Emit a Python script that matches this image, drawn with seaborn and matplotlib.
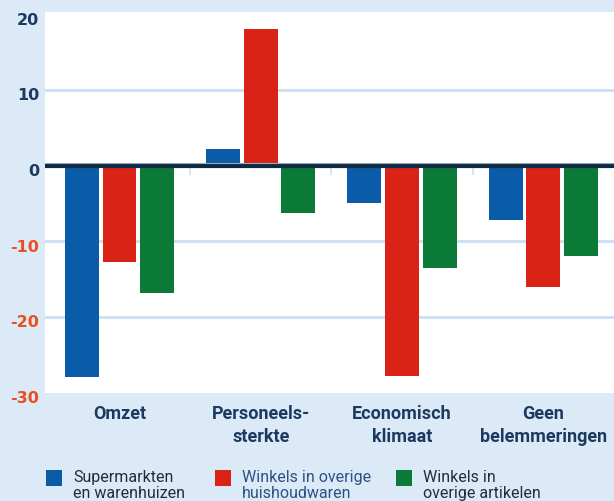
import matplotlib
matplotlib.use("Agg")
import matplotlib.pyplot as plt
import seaborn as sns
import pandas as pd
from matplotlib.patches import Rectangle
from matplotlib.transforms import ScaledTranslation, blended_transform_factory

categories = ["Omzet", "Personeels-\nsterkte", "Economisch\nklimaat", "Geen\nbelemmeringen"]
series = ["Supermarkten\nen warenhuizen", "Winkels in overige\nhuishoudwaren", "Winkels in\noverige artikelen"]
supermarkten = [-28.0, 2.2, -5.0, -7.2]
huishoudwaren = [-12.7, 18.0, -27.8, -16.1]
overige = [-16.9, -6.3, -13.6, -12.0]
colors = ["#0a5ca8", "#d92317", "#0b7a36"]
yticks = [20, 10, 0, -10, -20, -30]

rows = []
for s, vals in zip(series, [supermarkten, huishoudwaren, overige]):
    for c, v in zip(categories, vals):
        rows.append({"cat": c, "series": s, "value": v})
df = pd.DataFrame(rows)

bg = "#dceaf8"
navy = "#1b3a5e"
orange = "#e8501e"

sns.set_theme(style="white")
plt.rcParams["font.family"] = ["Roboto", "DejaVu Sans"]

fig = plt.figure(figsize=(6.14, 5.02), dpi=100, facecolor=bg)
ax = fig.add_axes([45 / 614, 1 - 393.5 / 502, 1 - 45 / 614, (393.5 - 13.3) / 502])
ax.set_facecolor("white")

sns.barplot(data=df, x="cat", y="value", hue="series", order=categories,
            hue_order=series, palette=colors, width=0.8, gap=0.1,
            saturation=1, legend=False, ax=ax, zorder=2,
            edgecolor="none", linewidth=0)

ax.set_xlim(-0.527, 3.5)
ax.set_ylim(-30, 20.25)

for y in [10, -10, -20]:
    ax.axhline(y, color="#cde0f4", lw=2.2, zorder=1)
ax.axhline(0, color="#0d2a45", lw=3, zorder=4)
ax.axhline(0.3, color="#9aa8b5", lw=0.8, zorder=4)
ax.vlines([0.5, 1.5, 2.5], -1.3, 0, color="#d5e5f5", lw=1.5, zorder=1)

for sp in ax.spines.values():
    sp.set_visible(False)

# y tick labels drawn as text, shifted slightly down like the reference
ax.set_yticks(yticks)
ax.set_yticklabels([])
trans = blended_transform_factory(ax.transAxes, ax.transData) + \
    ScaledTranslation(-6 / 100, -5 / 100, fig.dpi_scale_trans)
for t in yticks:
    ax.text(0, t, str(t), transform=trans, ha="right", va="center",
            fontfamily="DejaVu Sans", fontweight="bold", fontsize=11.5,
            color=navy if t >= 0 else orange, clip_on=False)
ax.tick_params(axis="y", length=0)
ax.tick_params(axis="x", length=0, pad=8)
ax.set_xticks(range(len(categories)))
ax.set_xticklabels(categories, fontsize=13, fontweight="bold", color=navy,
                   linespacing=1.4)
ax.set_xlabel("")
ax.set_ylabel("")

# legend
W, H = 614, 502
sq_x = [46, 215, 396]
txt_colors = ["#1e2d40", "#2b5283", "#1e2d40"]
for x0, col, name, tc in zip(sq_x, colors, series, txt_colors):
    fig.patches.append(Rectangle((x0 / W, 1 - 487 / H), 16 / W, 16 / H,
                                 transform=fig.transFigure, facecolor=col,
                                 edgecolor="none"))
    fig.text((x0 + 27) / W, 1 - 470 / H, name, fontsize=11.5, color=tc,
             va="top", ha="left", linespacing=1.12)

fig.savefig("out.png", dpi=100, facecolor=bg)
